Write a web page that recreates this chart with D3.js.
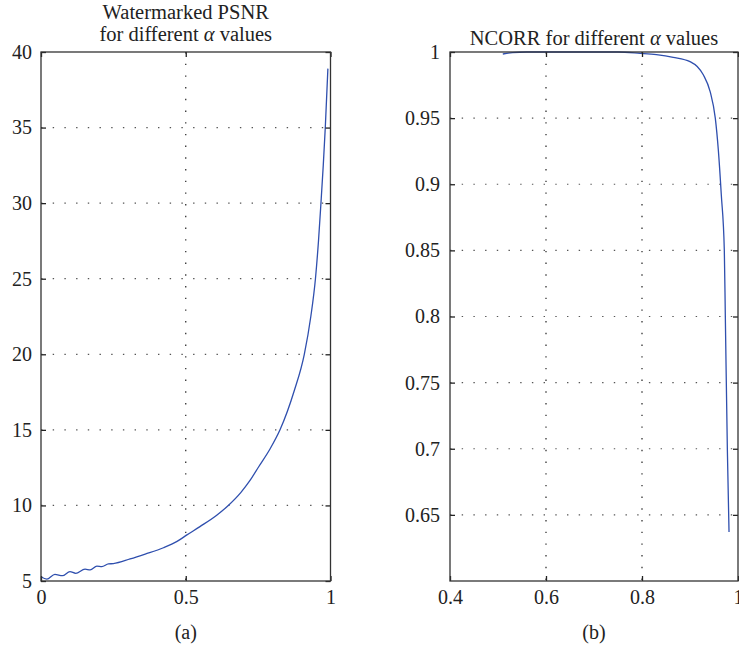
<html>
<head>
<script src="https://d3js.org/d3.v7.min.js"></script>
<style>
  body { margin: 0; background: #fff; }
  text, .tick text { font-family: "Liberation Serif", "DejaVu Serif", serif !important; fill: #222; }
</style>
</head>
<body>
<svg id="chart" width="739" height="648"></svg>
<script>
// (a) watermarked PSNR against alpha
const alphaA = [0, 0.02, 0.048, 0.074, 0.10, 0.12, 0.152, 0.17, 0.193, 0.21, 0.233, 0.25,
  0.308, 0.36, 0.423, 0.47, 0.504, 0.549, 0.607, 0.647, 0.69, 0.722, 0.752, 0.79,
  0.8256, 0.875, 0.9095, 0.932, 0.948, 0.9585, 0.967, 0.975, 0.982, 0.991];
const psnr = [5.28, 5.13, 5.44, 5.35, 5.62, 5.51, 5.79, 5.73, 5.99, 5.95, 6.13, 6.15,
  6.46, 6.78, 7.2, 7.62, 8.05, 8.6, 9.35, 10.0, 10.85, 11.65, 12.56, 13.7,
  15, 17.6, 20, 22.5, 25, 27.5, 30, 32.5, 35, 38.9];
const xTicksA = [0, 0.5, 1];
const yTicksA = [5, 10, 15, 20, 25, 30, 35, 40];

// (b) NCORR against alpha
const alphaB = [0.51, 0.53, 0.56, 0.65, 0.75, 0.796, 0.83, 0.865, 0.9, 0.915, 0.928,
  0.942, 0.9527, 0.959, 0.9652, 0.9715, 0.9736, 0.9778, 0.9813];
const ncorr = [0.9985, 0.9995, 1.0, 1.0, 1.0, 0.999, 0.998, 0.996, 0.9927, 0.989, 0.9826,
  0.970, 0.95, 0.926, 0.892, 0.85, 0.80, 0.70, 0.637];
const xTicksB = [0.4, 0.6, 0.8, 1];
const yTicksB = [0.65, 0.7, 0.75, 0.8, 0.85, 0.9, 0.95, 1];

const svg = d3.select("#chart");
const plotTop = 52, plotBottom = 581;

function panel(opt) {
  const x = d3.scaleLinear().domain(opt.xDomain).range([opt.left, opt.right]);
  const y = d3.scaleLinear().domain(opt.yDomain).range([plotBottom, plotTop]);
  const g = svg.append("g");

  // dotted grid
  g.selectAll(".vg").data(opt.xTicks.filter(v => v > opt.xDomain[0] && v < opt.xDomain[1]))
    .enter().append("line")
    .attr("x1", d => x(d)).attr("x2", d => x(d)).attr("y1", plotTop).attr("y2", plotBottom)
    .style("stroke", "#222").style("stroke-width", 1.2).style("stroke-dasharray", "1.4,10.3");
  g.selectAll(".hg").data(opt.yTicks.filter(v => v > opt.yDomain[0] && v < opt.yDomain[1]))
    .enter().append("line")
    .attr("x1", opt.left).attr("x2", opt.right).attr("y1", d => y(d)).attr("y2", d => y(d))
    .style("stroke", "#555").style("stroke-width", 1.2).style("stroke-dasharray", "1.4,10.3");

  // curve
  g.append("path")
    .datum(d3.zip(opt.xs, opt.ys))
    .attr("d", d3.line().x(d => x(d[0])).y(d => y(d[1])).curve(d3.curveMonotoneX))
    .style("fill", "none").style("stroke", "#2f4fae").style("stroke-width", 1.3);

  // axes, ticks pointing inward
  const fmt = d => String(d);
  const ax = [
    g.append("g").attr("transform", "translate(0," + plotBottom + ")")
      .call(d3.axisBottom(x).tickValues(opt.xTicks).tickSize(-5).tickPadding(9).tickFormat(fmt)),
    g.append("g").attr("transform", "translate(0," + plotTop + ")")
      .call(d3.axisTop(x).tickValues(opt.xTicks).tickSize(-5).tickFormat("")),
    g.append("g").attr("transform", "translate(" + opt.left + ",0)")
      .call(d3.axisLeft(y).tickValues(opt.yTicks).tickSize(-5).tickPadding(opt.yPad).tickFormat(fmt)),
    g.append("g").attr("transform", "translate(" + opt.right + ",0)")
      .call(d3.axisRight(y).tickValues(opt.yTicks).tickSize(-5).tickFormat(""))
  ];
  ax.forEach(a => {
    a.attr("font-family", "Liberation Serif").attr("font-size", 20);
    a.select(".domain").remove();
    a.selectAll(".tick line").style("stroke", "#222").style("stroke-width", 1.3);
    a.selectAll(".tick text").attr("font-family", "Liberation Serif")
      .style("font-size", "20px").style("fill", "#222");
  });

  g.append("rect")
    .attr("x", opt.left).attr("y", plotTop)
    .attr("width", opt.right - opt.left).attr("height", plotBottom - plotTop)
    .style("fill", "none").style("stroke", "#333").style("stroke-width", 1.3);

  const cx = (opt.left + opt.right) / 2;
  opt.title.forEach((line, i) => {
    const t = g.append("text").attr("x", cx).attr("y", opt.titleY[i])
      .attr("text-anchor", "middle").style("font-size", "20.5px");
    line.forEach(part => t.append("tspan").text(part[0])
      .style("font-style", part[1] ? "italic" : "normal"));
  });
  g.append("text").attr("x", cx).attr("y", 639).attr("text-anchor", "middle")
    .style("font-size", "20px").text(opt.label);
}

panel({
  left: 41, right: 330.5, xDomain: [0, 1], yDomain: [5, 40],
  xTicks: xTicksA, yTicks: yTicksA, xs: alphaA, ys: psnr, yPad: 9,
  title: [[["Watermarked PSNR", false]], [["for different ", false], ["\u03b1", true], [" values", false]]],
  titleY: [19, 41], label: "(a)"
});

panel({
  left: 450, right: 738, xDomain: [0.4, 1], yDomain: [0.6, 1],
  xTicks: xTicksB, yTicks: yTicksB, xs: alphaB, ys: ncorr, yPad: 10,
  title: [[["NCORR for different ", false], ["\u03b1", true], [" values", false]]],
  titleY: [45], label: "(b)"
});
</script>
</body>
</html>
